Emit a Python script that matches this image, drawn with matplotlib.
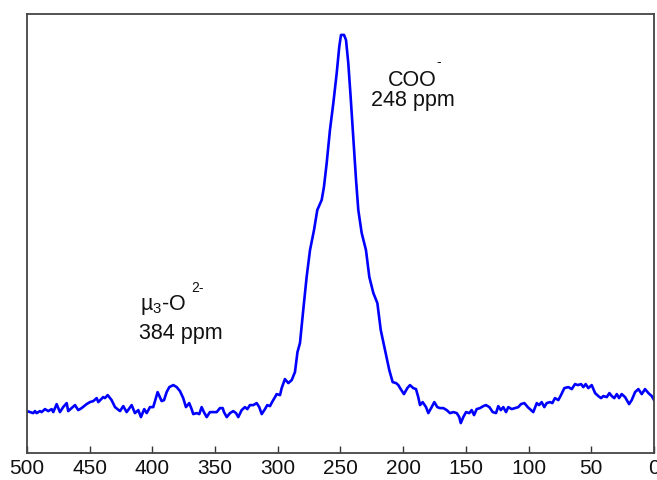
import matplotlib
matplotlib.use('Agg')
import matplotlib.pyplot as plt
import numpy as np

# chemical shift (ppm) and intensity (arbitrary units)
ppm = [500.0, 497.6, 495.0, 493.6, 492.3, 489.6, 488.3, 485.6, 483.0, 480.3,
       479.0, 476.3, 473.7, 471.1, 468.3, 467.1, 464.4, 461.7, 459.1, 456.4,
       452.4, 449.8, 447.1, 444.4, 443.1, 439.2, 437.8, 435.6, 432.5, 429.8,
       425.8, 423.2, 420.5, 416.5, 413.9, 411.2, 409.1, 406.5, 404.5, 401.9,
       399.3, 395.8, 392.6, 390.7, 388.6, 386.5, 383.3, 380.6, 378.0, 375.4,
       373.2, 370.6, 368.7, 367.4, 364.7, 362.6, 360.7, 358.9, 356.7, 354.1,
       351.4, 348.7, 346.1, 343.9, 342.9, 340.7, 338.1, 335.5, 333.3, 331.5,
       328.8, 326.2, 324.3, 322.2, 319.5, 316.8, 314.8, 312.8, 310.2, 308.4,
       306.2, 304.1, 302.2, 300.9, 298.2, 296.9, 294.3, 291.6, 288.9, 286.3,
       284.3, 282.3, 279.7, 277.0, 274.3, 271.1, 268.5, 265.0, 263.2, 261.0,
       258.4, 255.7, 253.0, 251.0, 249.6, 247.2, 245.6, 243.8, 241.9, 239.8,
       237.6, 235.8, 233.1, 229.7, 227.0, 223.8, 220.6, 217.9, 214.5, 211.1,
       208.4, 205.7, 203.9, 202.0, 199.4, 196.7, 194.6, 192.0, 189.8, 188.0,
       186.6, 184.5, 181.8, 180.0, 177.3, 175.2, 172.8, 170.7, 168.0, 165.3,
       162.7, 160.0, 157.3, 155.3, 154.1, 152.1, 149.9, 147.3, 145.4, 143.5,
       141.4, 138.8, 136.1, 134.0, 131.3, 128.6, 126.0, 124.2, 122.2, 120.2,
       118.0, 116.2, 113.5, 110.8, 108.2, 106.1, 103.4, 100.7, 98.1, 96.3,
       93.5, 91.7, 89.6, 87.5, 85.6, 82.9, 81.1, 79.0, 76.3, 74.2,
       71.5, 68.3, 65.6, 63.0, 60.8, 58.2, 56.4, 54.5, 52.4, 49.7,
       47.0, 44.4, 42.3, 40.4, 37.7, 35.6, 33.7, 31.7, 29.7, 27.9,
       25.8, 23.1, 19.9, 17.8, 15.1, 12.5, 9.8, 7.2, 4.5, 1.8, 0.0]
intensity = [42, 41, 40, 42, 40, 42, 41, 44, 42, 44,
             41, 49, 41, 46, 50, 42, 45, 48, 43, 45,
             49, 51, 52, 55, 51, 56, 55, 58, 53, 46,
             42, 47, 41, 48, 40, 43, 36, 44, 40, 46,
             46, 61, 52, 53, 61, 66, 68, 66, 62, 55,
             46, 50, 44, 39, 40, 39, 46, 41, 36, 41,
             41, 41, 45, 45, 41, 36, 40, 42, 40, 36,
             43, 46, 44, 48, 48, 50, 46, 39, 44, 48,
             47, 52, 56, 59, 58, 65, 74, 70, 73, 81,
             101, 110, 143, 176, 203, 223, 243, 253, 266, 290,
             323, 350, 380, 406, 418, 418, 413, 390, 356, 316,
             273, 243, 220, 203, 176, 160, 150, 123, 103, 83,
             71, 70, 68, 64, 59, 65, 68, 65, 64, 56,
             48, 51, 46, 40, 46, 51, 46, 45, 45, 43,
             40, 41, 40, 36, 30, 36, 41, 40, 43, 38,
             44, 45, 47, 48, 46, 41, 40, 47, 43, 46,
             41, 46, 44, 45, 46, 49, 50, 46, 43, 41,
             50, 48, 51, 46, 50, 51, 50, 55, 53, 58,
             65, 66, 64, 69, 68, 69, 66, 69, 65, 68,
             60, 57, 55, 57, 56, 60, 57, 55, 59, 55,
             59, 56, 49, 53, 61, 64, 59, 64, 60, 57, 53]

xticks = [500, 450, 400, 350, 300, 250, 200, 150, 100, 50, 0]

plt.rcParams['font.family'] = ['Liberation Sans', 'DejaVu Sans']
plt.rcParams['mathtext.fontset'] = 'custom'
plt.rcParams['mathtext.rm'] = 'Liberation Sans'
plt.rcParams['mathtext.default'] = 'regular'

fig = plt.figure(figsize=(6.57, 4.8), dpi=100)
ax = fig.add_axes([0.041, 0.056, 0.9545, 0.915])
ax.plot(ppm, intensity, color='#0000ff', lw=1.9)

ax.set_xlim(500, 0)
ax.set_ylim(0, 439)
ax.set_xticks(xticks)
ax.set_yticks([])
ax.tick_params(axis='x', direction='in', length=5, width=1, color='#333333',
               labelsize=15, pad=4, labelcolor='#111111')
for s in ax.spines.values():
    s.set_color('#444444')
    s.set_linewidth(1.3)

txt = dict(fontsize=15.5, color='#111111')
sup = dict(fontsize=10, color='#111111', ha='center', va='center')
ax.text(192.6, 367, 'COO', ha='center', va='baseline', **txt)
ax.text(172, 391, '-', **sup)
ax.text(192, 352, '248 ppm', ha='center', va='center', **txt)
ax.text(391.5, 143, '\u00b5$_{3}$-O', ha='center', va='baseline', **txt)
ax.text(364, 165, '2-', **sup)
ax.text(377, 120, '384 ppm', ha='center', va='center', **txt)

fig.savefig('out.png', dpi=100)
